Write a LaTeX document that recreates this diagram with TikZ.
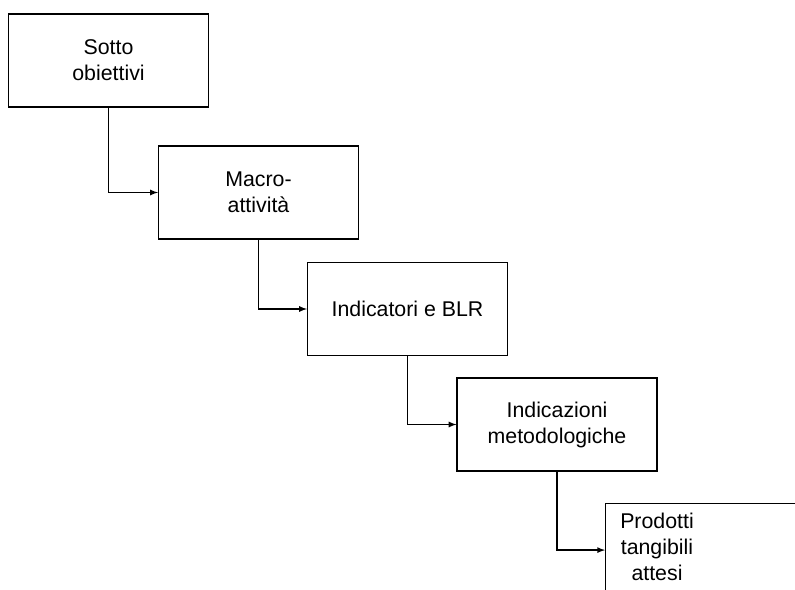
\documentclass[tikz,border=0pt]{standalone}
\usepackage{fontspec}
\setmainfont{Liberation Sans}
\usetikzlibrary{arrows}

\begin{document}
\begin{tikzpicture}[
x=0.75pt, y=-0.75pt,
box/.style={
	draw, rectangle, line width=0.85pt,
	minimum width=150pt, minimum height=69.75pt,
	inner sep=2pt, align=center, text=black,
	font=\fontsize{16}{19.5}\selectfont
},
boxtext/.style={
	align=center, inner sep=0pt,
	font=\fontsize{16}{19.5}\selectfont
},
>=latex, line width=1pt
]
\useasboundingbox (0,0) rectangle (795,589);
\clip (0,0) rectangle (795,589);
\node[box] (sotto) at (108.5,60.5) {Sotto\\obiettivi};
\node[box] (macro) at (258.5,192.5) {Macro-\\attività};
\node[box] (indic) at (407.5,309) {Indicatori e BLR};
\node[box] (metod) at (557,424.5) {Indicazioni\\metodologiche};
\node[box,anchor=north west] (prod) at (605,503) {};
\node[boxtext] (prodtxt) at (657,547) {Prodotti\\tangibili\\attesi};
\foreach \a/\b in {sotto/macro,macro/indic,indic/metod,metod/prod}
{
	\draw[->] (\a.south) |- (\b.west);
}
\end{tikzpicture}
\end{document}
